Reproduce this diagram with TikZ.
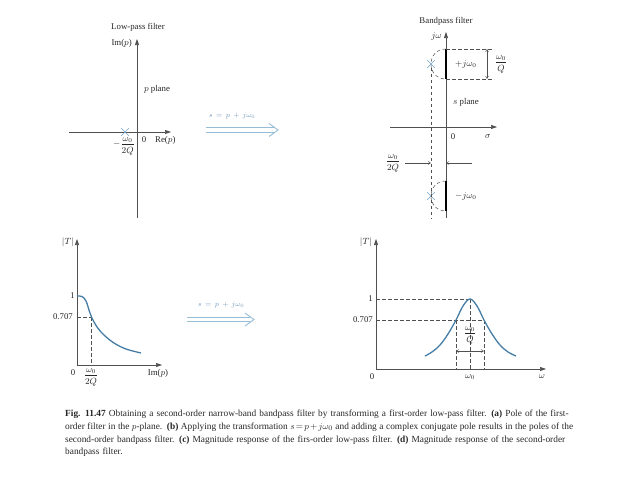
\documentclass[tikz,border=0pt]{standalone}
\usepackage{fontspec}
\setmainfont{Liberation Serif}
\usetikzlibrary{arrows.meta,shapes.misc}
\definecolor{axisgray}{RGB}{80,80,80}
\definecolor{curveblue}{RGB}{70,125,165}
\definecolor{polecol}{RGB}{120,165,200}
\definecolor{arrowblue}{RGB}{150,188,214}
\definecolor{textblue}{RGB}{110,150,185}
\begin{document}
\begin{tikzpicture}[x=1pt,y=-1pt,
  axis/.style={draw=axisgray,line width=0.6pt,-{Triangle[length=6pt,width=4pt]}},
  dashline/.style={draw=axisgray,line width=0.5pt,dash pattern=on 3.5pt off 2.5pt},
  thickseg/.style={draw=black,line width=1.6pt},
  resp/.style={draw=curveblue,line width=1.3pt},
  dimarrow/.style={draw=axisgray,line width=0.5pt,{Straight Barb[length=2.5pt,width=3pt]}-{Straight Barb[length=2.5pt,width=3pt]}},
  onearrow/.style={draw=axisgray,line width=0.5pt,-{Straight Barb[length=2.5pt,width=3pt]}},
  transline/.style={draw=arrowblue,line width=0.9pt,line join=miter},
  lbl/.style={font=\fontsize{8.8}{10}\selectfont,inner sep=0pt,text=black!85},
  tlbl/.style={font=\fontsize{7}{8}\selectfont,inner sep=0pt,text=textblue},
  pole/.style={cross out,draw=polecol,minimum size=7pt,inner sep=0pt,line width=0.7pt},
  captext/.style={font=\fontsize{9.35}{12.7}\selectfont,inner sep=0pt,text width=560pt,align=left,anchor=north west,text=black!85}
]
\useasboundingbox (0,0) rectangle (638,479);

% ---------- panel (a) ----------
\coordinate (aB) at (137,218); \coordinate (aT) at (137,39);
\coordinate (aL) at (69,132);  \coordinate (aR) at (171,132);
\draw[axis] (aB) -- (aT);
\draw[axis] (aL) -- (aR);
\node[lbl] (aTitle) at (138,27) {Low-pass filter};
\node[lbl,anchor=east] (aIm) at (132,43) {Im($p$)};
\node[lbl] (aPlane) at (157,89) {$p$ plane};
\node[pole] (aPole) at (125,132) {};
\node[lbl] (aZero) at (144,140) {0};
\node[lbl,anchor=west] (aRe) at (155,140) {Re($p$)};
\node[lbl] (aFrac) at (124,146) {$-\displaystyle\frac{\omega_0}{2Q}$};

% ---------- top transformation arrow ----------
\coordinate (t1a) at (206,127.8); \coordinate (t1b) at (274,127.8);
\coordinate (t1c) at (206,132.2); \coordinate (t1d) at (274,132.2);
\coordinate (t1u) at (269,123.5); \coordinate (t1tip) at (278,130); \coordinate (t1l) at (269,136.5);
\draw[transline] (t1a) -- (t1b);
\draw[transline] (t1c) -- (t1d);
\draw[transline] (t1u) -- (t1tip) -- (t1l);
\node[tlbl] (t1lbl) at (232,116) {$s\,=\,p\,+\,j\omega_0$};

% ---------- panel (b) ----------
\coordinate (bB) at (446,218); \coordinate (bT) at (446,32);
\coordinate (bL) at (390,127); \coordinate (bR) at (497,127);
\draw[axis] (bB) -- (bT);
\draw[axis] (bL) -- (bR);
\node[lbl] (bTitle) at (446,21) {Bandpass filter};
\node[lbl,anchor=east] (bJw) at (442,36) {$j\omega$};
\node[lbl] (bPlane) at (466,102) {$s$ plane};
\node[lbl] (bZero) at (453,137) {0};
\node[lbl] (bSigma) at (488,137) {$\sigma$};
% upper pole
\coordinate (u1) at (446,49); \coordinate (u2) at (446,79);
\draw[dashline] (u1) .. controls (426,49) and (426,79) .. (u2);
\draw[thickseg] (u1) -- (u2);
\node[pole] (uPole) at (431,64) {};
\node[lbl,anchor=west] (uLbl) at (455,64) {$+j\omega_0$};
\coordinate (u1r) at (494,49); \coordinate (u2r) at (494,79);
\draw[dashline] (u1) -- (u1r);
\draw[dashline] (u2) -- (u2r);
\coordinate (dq1) at (487,49); \coordinate (dq2) at (487,79);
\draw[dimarrow] (dq1) -- (dq2);
\node[lbl] (qLbl) at (501,64) {$\displaystyle\frac{\omega_0}{Q}$};
% lower pole
\coordinate (l1) at (446,181); \coordinate (l2) at (446,211);
\draw[dashline] (l1) .. controls (426,181) and (426,211) .. (l2);
\draw[thickseg] (l1) -- (l2);
\node[pole] (lPole) at (431,196) {};
\node[lbl,anchor=west] (lLbl) at (455,196) {$-j\omega_0$};
% dashed vertical through poles
\coordinate (dvB) at (431,218);
\draw[dashline] (uPole.south) -- (dvB);
% width markers
\coordinate (w1s) at (405,163); \coordinate (w1e) at (431,163);
\coordinate (w2s) at (472,163); \coordinate (w2e) at (446,163);
\draw[onearrow] (w1s) -- (w1e);
\draw[onearrow] (w2s) -- (w2e);
\node[lbl] (wLbl) at (393,163) {$\displaystyle\frac{\omega_0}{2Q}$};

% ---------- panel (c) ----------
\coordinate (cO) at (77,365); \coordinate (cT) at (77,239); \coordinate (cR) at (162,365);
\draw[axis] (cO) -- (cT);
\draw[axis] (cO) -- (cR);
\node[lbl,anchor=east] (cT1) at (74,242) {$|T|$};
\node[lbl,anchor=east] (cOne) at (75,296) {1};
\node[lbl,anchor=east] (cHalf) at (73,317) {0.707};
\coordinate (cH) at (77,317); \coordinate (cP) at (91,317); \coordinate (cPb) at (91,365);
\draw[dashline] (cH) -- (cP);
\draw[dashline] (cP) -- (cPb);
\draw[resp] plot[smooth,tension=0.6] coordinates {(77,296) (82,296.5) (86,301) (89,310) (92,318) (97,327) (104,335) (114,343) (126,349) (141,353)};
\node[lbl] (cZero) at (73,373) {0};
\node[lbl] (cFrac) at (91,377) {$\displaystyle\frac{\omega_0}{2Q}$};
\node[lbl] (cIm) at (158,373) {Im($p$)};

% ---------- bottom transformation arrow ----------
\coordinate (t2a) at (187,317.3); \coordinate (t2b) at (250,317.3);
\coordinate (t2c) at (187,321.7); \coordinate (t2d) at (250,321.7);
\coordinate (t2u) at (245,313); \coordinate (t2tip) at (254,319.5); \coordinate (t2l) at (245,326);
\draw[transline] (t2a) -- (t2b);
\draw[transline] (t2c) -- (t2d);
\draw[transline] (t2u) -- (t2tip) -- (t2l);
\node[tlbl] (t2lbl) at (221,305) {$s\,=\,p\,+\,j\omega_0$};

% ---------- panel (d) ----------
\coordinate (dO) at (376,369); \coordinate (dT) at (376,239); \coordinate (dR) at (546,369);
\draw[axis] (dO) -- (dT);
\draw[axis] (dO) -- (dR);
\node[lbl,anchor=east] (dT1) at (372,242) {$|T|$};
\node[lbl,anchor=east] (dOne) at (373,299) {1};
\node[lbl,anchor=east] (dHalf) at (373,320) {0.707};
\coordinate (dH1) at (376,299); \coordinate (dPk) at (470,299);
\coordinate (dH2) at (376,320); \coordinate (dHr) at (484,320);
\coordinate (dHl) at (456,320);
\coordinate (dPkb) at (470,369); \coordinate (dHlb) at (456,369); \coordinate (dHrb) at (484,369);
\draw[dashline] (dH1) -- (dPk);
\draw[dashline] (dH2) -- (dHr);
\draw[dashline] (dPk) -- (dPkb);
\draw[dashline] (dHl) -- (dHlb);
\draw[dashline] (dHr) -- (dHrb);
\draw[resp] plot[smooth,tension=0.6] coordinates {(425,356) (432,352) (440,345) (448,334) (456,320) (463,306) (470,299) (477,306) (484,320) (492,334) (500,345) (508,352) (516,356)};
\coordinate (dw1) at (456,351); \coordinate (dw2) at (484,351);
\draw[dimarrow] (dw1) -- (dw2);
\node[lbl] (dFrac) at (470,335) {$\displaystyle\frac{\omega_0}{Q}$};
\node[lbl] (dZero) at (372,377) {0};
\node[lbl] (dW0) at (470,377) {$\omega_0$};
\node[lbl] (dW) at (542,377) {$\omega$};

% ---------- caption ----------
\node[captext] (caption) at (65,410) {\medmuskip=2mu\thickmuskip=2.5mu
\makebox[507pt][s]{\textbf{Fig. 11.47} Obtaining a second-order narrow-band bandpass filter by transforming a first-order low-pass filter.\enspace \textbf{(a)} Pole of the first-}\\
{\spaceskip=0.17em plus 0.1em minus 0.02em\makebox[508pt][s]{order filter in the $p$-plane.\enspace \textbf{(b)} Applying the transformation $s=p+j\omega_0$ and adding a complex conjugate pole results in the poles of the}}\\
second-order bandpass filter.\enspace \textbf{(c)} Magnitude response of the firs-order low-pass filter.\enspace \textbf{(d)} Magnitude response of the second-order\\
bandpass filter.};
\end{tikzpicture}
\end{document}
